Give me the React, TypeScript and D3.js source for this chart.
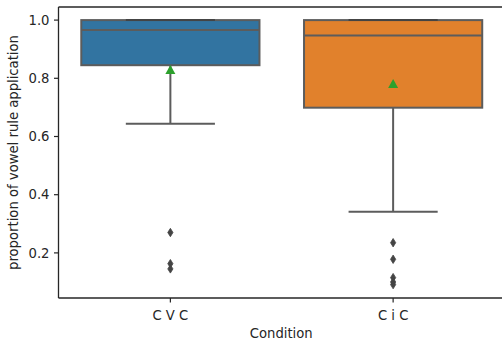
import React from "react";
import * as d3 from "d3";

const categories = ["C V C", "C i C"];
const colors = ["#3274a1", "#e1812c"];
const q1 = [0.845, 0.699];
const medians = [0.966, 0.947];
const q3 = [1.0, 1.0];
const whiskerLow = [0.644, 0.341];
const whiskerHigh = [1.0, 1.0];
const means = [0.827, 0.779];
const outliersCVC = [0.27, 0.163, 0.145];
const outliersCiC = [0.235, 0.178, 0.115, 0.1, 0.091];
const outliers = [outliersCVC, outliersCiC];
const yTicks = [0.2, 0.4, 0.6, 0.8, 1.0];

const W = 502;
const H = 339;
const left = 58.5;
const right = 504;
const top = 7;
const bottom = 298;
const gray = "#5c5c5c";
const axisColor = "#262626";
const font = "'DejaVu Sans', sans-serif";
const fs = 13.2;

export default function App() {
  const x = d3.scaleBand<string>().domain(categories).range([left + 0.5, right + 0.5]).padding(0);
  const y = d3.scaleLinear().domain([0.045, 1.045]).range([bottom, top]);
  const bw = x.bandwidth() * 0.8;
  const diamond = (cx: number, cy: number) =>
    `M${cx},${cy - 4.2}L${cx + 2.6},${cy}L${cx},${cy + 4.2}L${cx - 2.6},${cy}Z`;
  const tri = (cx: number, cy: number) =>
    `M${cx},${cy - 5.5}L${cx + 5},${cy + 3.5}L${cx - 5},${cy + 3.5}Z`;

  return (
    <svg width={W} height={H} style={{ position: "absolute", left: 0, top: 0, background: "#fff" }}>
      {categories.map((c, i) => {
        const cx = (x(c) as number) + x.bandwidth() / 2;
        const x0 = cx - bw / 2;
        return (
          <g key={c}>
            <line x1={cx} x2={cx} y1={y(q1[i])} y2={y(whiskerLow[i])} stroke={gray} strokeWidth={2} />
            <line x1={cx} x2={cx} y1={y(q3[i])} y2={y(whiskerHigh[i])} stroke={gray} strokeWidth={2} />
            <rect x={x0} y={y(q3[i])} width={bw} height={y(q1[i]) - y(q3[i])} fill={colors[i]} stroke={gray} strokeWidth={2} />
            <line x1={x0} x2={x0 + bw} y1={y(medians[i])} y2={y(medians[i])} stroke={gray} strokeWidth={2} />
            <line x1={cx - bw / 4} x2={cx + bw / 4} y1={y(whiskerLow[i])} y2={y(whiskerLow[i])} stroke={gray} strokeWidth={2} />
            <line x1={cx - bw / 4} x2={cx + bw / 4} y1={y(whiskerHigh[i])} y2={y(whiskerHigh[i])} stroke="#444" strokeWidth={2} />
            {outliers[i].map((v, k) => (
              <path key={k} d={diamond(cx, y(v))} fill="#444" stroke="#444" strokeWidth={0.8} />
            ))}
            <path d={tri(cx, y(means[i]))} fill="#2ca02c" />
          </g>
        );
      })}
      {/* spines */}
      <g stroke={axisColor} strokeWidth={1.3} fill="none">
        <line x1={left} x2={left} y1={top} y2={bottom} />
        <line x1={left} x2={right} y1={bottom} y2={bottom} />
        <line x1={left} x2={right} y1={top} y2={top} />
        <line x1={right} x2={right} y1={top} y2={bottom} />
      </g>
      {yTicks.map((t) => (
        <g key={t}>
          <line x1={left - 4.5} x2={left} y1={y(t)} y2={y(t)} stroke={axisColor} strokeWidth={1.2} />
          <text x={left - 9} y={y(t)} dy="0.36em" textAnchor="end" fontFamily={font} fontSize={fs} fill="#262626">
            {t.toFixed(1)}
          </text>
        </g>
      ))}
      {categories.map((c) => {
        const cx = (x(c) as number) + x.bandwidth() / 2;
        return (
          <g key={c}>
            <line x1={cx} x2={cx} y1={bottom} y2={bottom + 4.5} stroke={axisColor} strokeWidth={1.2} />
            <text x={cx} y={bottom + 22} textAnchor="middle" fontFamily={font} fontSize={fs} fill="#262626">
              {c}
            </text>
          </g>
        );
      })}
      <text x={(left + right) / 2} y={bottom + 39.5} textAnchor="middle" fontFamily={font} fontSize={fs} fill="#262626">
        Condition
      </text>
      <text
        transform={`translate(18,${(top + bottom) / 2}) rotate(-90)`}
        textAnchor="middle"
        fontFamily={font}
        fontSize={fs}
        fill="#262626"
      >
        proportion of vowel rule application
      </text>
    </svg>
  );
}
